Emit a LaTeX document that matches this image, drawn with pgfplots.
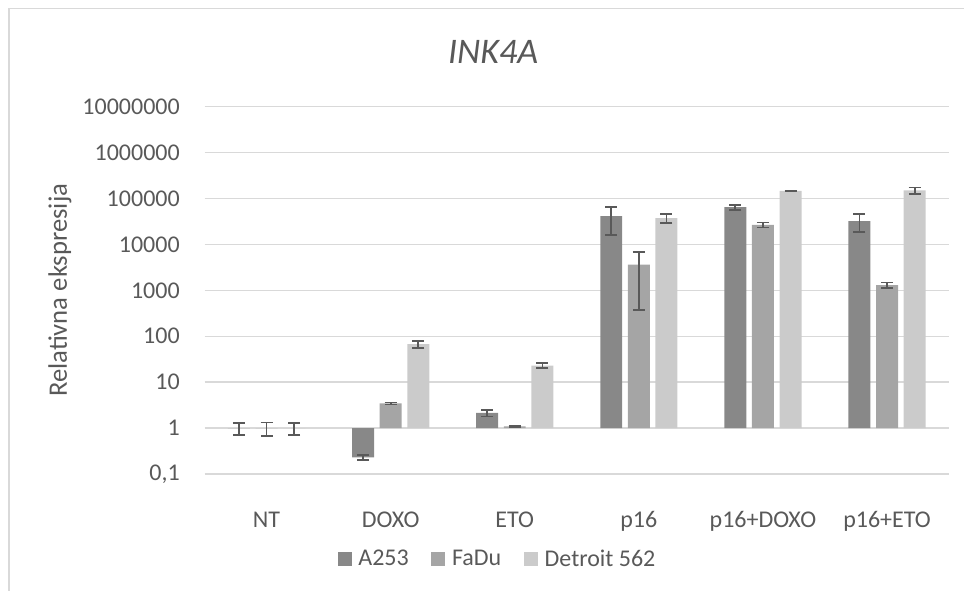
\documentclass[border=0pt]{standalone}
\usepackage{pgfplots}
\pgfplotsset{compat=1.18}
\usepackage{fontspec}
\setmainfont{Carlito}
\usepackage{xcolor}
\definecolor{C_A}{HTML}{888888}
\definecolor{C_F}{HTML}{A5A5A5}
\definecolor{C_D}{HTML}{CBCBCB}
\definecolor{C_Err}{HTML}{595959}
\definecolor{C_Txt}{HTML}{595959}
\definecolor{C_Grid}{HTML}{D9D9D9}

\begin{document}
\begin{tikzpicture}
    % page = 964x590 px, 1 px = 0.75 pt
    \useasboundingbox (0,0) rectangle (723pt,442.5pt);
    \draw[C_Grid, line width=1.1pt] (6.75pt,-5pt) -- (6.75pt,436.3pt) -- (740pt,436.3pt);
    \begin{axis}[
        at={(153.4pt,87pt)}, anchor=south west,
        scale only axis,
        width=558.4pt, height=275.5pt,
        ybar,
        bar width=0.177,
        ymode=log,
        log origin=0,
        xmin=-0.5, xmax=5.5,
        ymin=0.1, ymax=10000000,
        xtick={0,1,2,3,4,5},
        xticklabels={NT, DOXO, ETO, p16, p16+DOXO, p16+ETO},
        ytick={0.1,1,10,100,1000,10000,100000,1000000,10000000},
        yticklabels={{0,1},1,10,100,1000,10000,100000,1000000,10000000},
        minor ytick={},
        ymajorgrids,
        grid style={C_Grid, line width=1.1pt},
        axis line style={draw=none},
        major tick length=0pt,
        tick style={draw=none},
        font=\fontsize{18}{21.6}\selectfont,
        ticklabel style={text=C_Txt},
        xticklabel style={anchor=base, inner sep=0pt, yshift=-39.8pt},
        yticklabel style={anchor=east, inner sep=0pt, xshift=-18.4pt},
        ylabel={Relativna ekspresija},
        every axis y label/.style={at={(axis description cs:-0.1941,0.5)}, rotate=90, anchor=center,
            font=\fontsize{20}{24}\selectfont, text=C_Txt},
        title={\textit{INK4A}},
        every axis title/.style={at={(axis description cs:0.3875,1.118)}, anchor=base,
            font=\fontsize{27}{32}\selectfont, text=C_Txt},
        legend columns=-1,
        legend style={draw=none, fill=none, at={(axis description cs:0.394,-0.2314)}, anchor=center,
            font=\fontsize{18}{21.6}\selectfont, text=C_Txt,
            nodes={inner sep=2pt},
            /tikz/every odd column/.append style={column sep=3pt},
            /tikz/every even column/.append style={column sep=15pt}},
        legend image code/.code={\fill[#1] (0pt,-5.25pt) rectangle (10.5pt,5.25pt);},
        error bars/error bar style={C_Err, line width=1.3pt},
        error bars/error mark options={C_Err, line width=1.3pt, mark size=4.5pt, rotate=90},
    ]
        % A253
        \addplot[fill=C_A, draw=none, bar shift=-0.2225,
            error bars/.cd, y dir=both, y explicit] coordinates {
            (0,1) +- (0,0.3)
            (1,0.231) +- (0,0.027)
            (2,2.15) +- (0,0.35)
            (3,41300) +- (0,25000)
            (4,64900) +- (0,8000)
            (5,32100) +- (0,13500)
        };
        % FaDu
        \addplot[fill=C_F, draw=none, bar shift=0,
            error bars/.cd, y dir=both, y explicit] coordinates {
            (0,1) +- (0,0.33)
            (1,3.44) +- (0,0.17)
            (2,1.09) +- (0,0.04)
            (3,3620) +- (0,3250)
            (4,26700) +- (0,3400)
            (5,1306) +- (0,180)
        };
        % Detroit 562
        \addplot[fill=C_D, draw=none, bar shift=0.2225,
            error bars/.cd, y dir=both, y explicit] coordinates {
            (0,1) +- (0,0.3)
            (1,67) +- (0,12)
            (2,23) +- (0,3)
            (3,37300) +- (0,8000)
            (4,147000) +- (0,3000)
            (5,150000) +- (0,23000)
        };
        \legend{A253, FaDu, Detroit 562}
    \end{axis}
\end{tikzpicture}
\end{document}
